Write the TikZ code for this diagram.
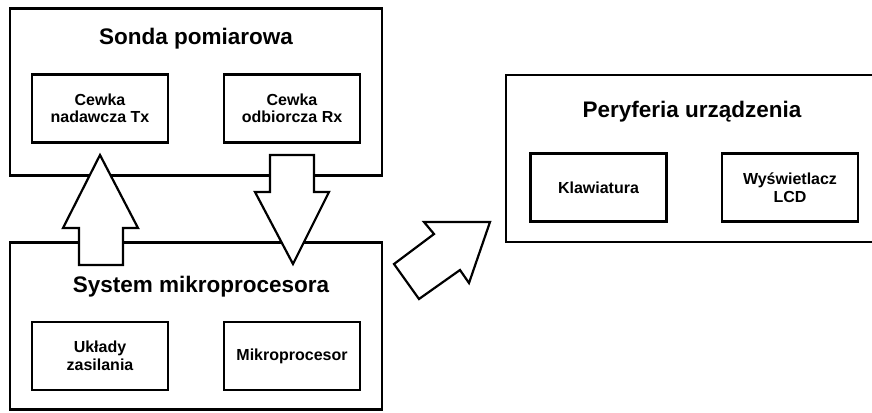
\documentclass[tikz,border=0pt]{standalone}
\usepackage{fontspec}
\setmainfont{Liberation Sans}
\usepackage{tikz}

\tikzset{
  outerbox/.style={draw,line width=2.6pt,minimum width=372pt,minimum height=167pt},
  innerbox/.style={draw,line width=2.6pt,minimum width=136pt,minimum height=68pt,
    align=center,font=\bfseries\fontsize{16}{17.5}\selectfont},
  title/.style={anchor=base,font=\bfseries\fontsize{22.5}{26}\selectfont},
  blockarrow/.style={draw,fill=white,line width=2.2pt,line join=miter}
}

\begin{document}
\begin{tikzpicture}[x=1pt,y=-1pt]
\useasboundingbox (0,0) rectangle (872,412);

% Sonda pomiarowa
\node[outerbox] (sonda) at (196,92) {};
\node[title] (sondaT) at (196,45) {Sonda pomiarowa};
\node[innerbox] (tx) at (100,108.5) {Cewka\\nadawcza Tx};
\node[innerbox] (rx) at (292,108.5) {Cewka\\odbiorcza Rx};

% System mikroprocesora
\node[outerbox] (system) at (196,326) {};
\node[title] (systemT) at (201,292) {System mikroprocesora};
\node[innerbox] (zasil) at (100,356) {Układy\\zasilania};
\node[innerbox] (mcu) at (292,356) {Mikroprocesor};

% Peryferia urzadzenia
\node[outerbox,minimum width=372pt] (peryf) at (692,158.5) {};
\node[title] (peryfT) at (692,117) {Peryferia urządzenia};
\node[innerbox] (klaw) at (598.5,187.5) {Klawiatura};
\node[innerbox] (lcd) at (790,187.5) {Wyświetlacz\\LCD};

% block arrows
\draw[blockarrow] (100,155) -- (138,228) -- (123,228) -- (123,265) -- (79,265)
  -- (79,228) -- (63,228) -- cycle;
\draw[blockarrow] (270,155) -- (314,155) -- (314,192) -- (329,192) -- (293,264)
  -- (255,192) -- (270,192) -- cycle;
\draw[blockarrow] (490,222) -- (424,222) -- (434,234) -- (394,264) -- (419,299)
  -- (460,270) -- (469,283) -- cycle;
\end{tikzpicture}
\end{document}
